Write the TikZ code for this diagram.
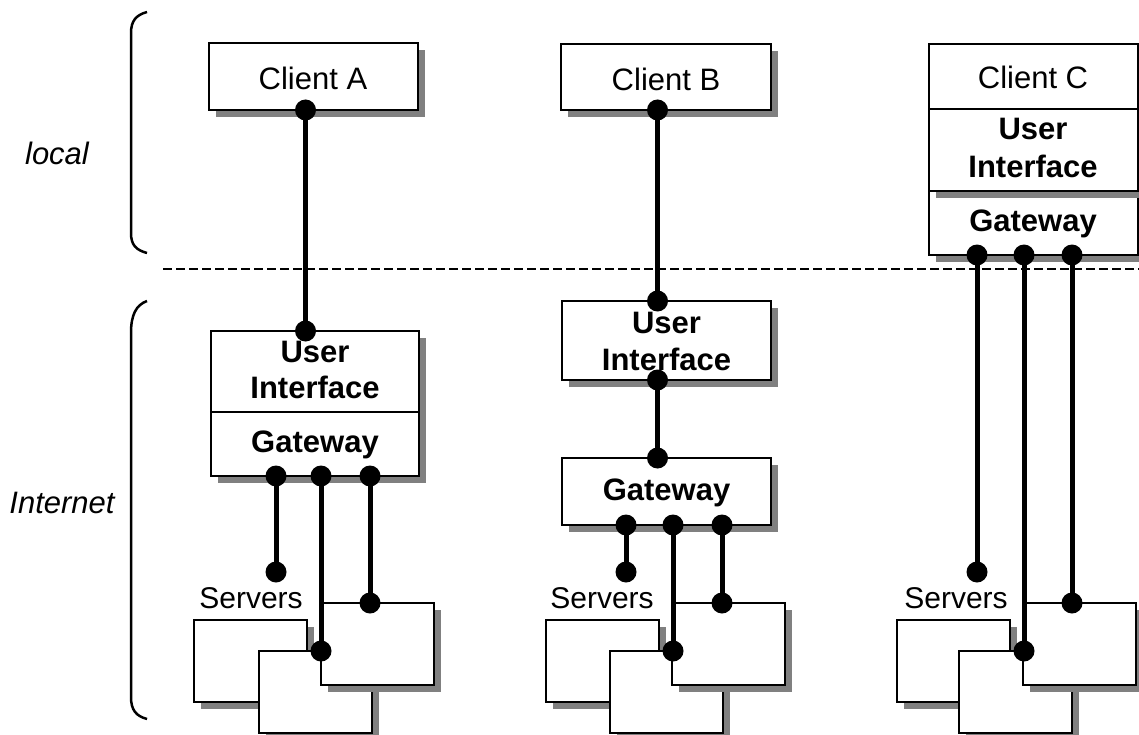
\documentclass[tikz,border=0pt]{standalone}
\usepackage{fontspec}
\setmainfont{Liberation Sans}
\definecolor{shgray}{RGB}{128,128,128}
% name, cx, cy, w, h : gray shadow then white box
\newcommand\mkbox[5]{%
  \fill[shgray] ({#2-#4/2+7},{#3-#5/2+7}) rectangle ({#2+#4/2+7},{#3+#5/2+7});
  \node[box, minimum width=#4pt, minimum height=#5pt] (#1) at (#2,#3) {};}
\begin{document}
\begin{tikzpicture}[x=1pt,y=-1pt,
  box/.style={draw=black, line width=2pt, fill=white, inner sep=0pt, outer sep=0pt},
  txt/.style={inner sep=0pt, anchor=base, font=\fontsize{31}{37}\selectfont},
  btxt/.style={inner sep=0pt, anchor=base, font=\fontsize{31}{37}\selectfont\bfseries},
  stxt/.style={inner sep=0pt, anchor=base, font=\fontsize{30}{36}\selectfont},
  itxt/.style={inner sep=0pt, anchor=base, font=\fontsize{31}{37}\selectfont\itshape},
  dot/.style={circle, fill=black, inner sep=0pt, minimum size=21pt},
  conn/.style={line width=5pt},
  divider/.style={line width=2pt},
  brace/.style={line width=2.5pt},
  sep/.style={line width=2pt, dash pattern=on 9pt off 4pt}]
\useasboundingbox (0,0) rectangle (1139,735);
\fill[white] (0,0) rectangle (1139,735);

% separator
\coordinate (sepL) at (163,269);
\coordinate (sepR) at (1139,269);
\draw[sep] (sepL) -- (sepR);

% braces
\draw[brace] (147,12) .. controls (136,15) and (131,21) .. (131,33) -- (131,233) .. controls (131,245) and (136,250) .. (147,253);
\draw[brace] (147,301) .. controls (136,305) and (131,315) .. (131,333) -- (131,697) .. controls (131,710) and (136,716) .. (147,719);
\node[itxt] (local) at (57,165) {local};
\node[itxt] (internet) at (62,513) {Internet};

% ---------- Column A ----------
\mkbox{cA}{313.5}{76.5}{209}{67}
\node[txt] (cAt) at (313,90) {Client A};
\mkbox{uiA}{315}{403.5}{208}{145}
\coordinate (dvA) at (0,412);
\draw[divider] (uiA.west |- dvA) -- (uiA.east |- dvA);
\node[btxt] (uiAt1) at (315,362) {User};
\node[btxt] (uiAt2) at (315,398) {Interface};
\node[btxt] (gwAt) at (315,452) {Gateway};

\mkbox{sA1}{250.5}{660.5}{113}{82}
\mkbox{sA2}{315.5}{692}{113}{82}
\mkbox{sA3}{377.5}{644}{113}{82}
\node[stxt] (sAt) at (251,608) {Servers};

% ---------- Column B ----------
\mkbox{cB}{666}{77}{210}{66}
\node[txt] (cBt) at (666,91) {Client B};
\mkbox{uiB}{666.5}{340.5}{209}{79}
\node[btxt] (uiBt1) at (666.5,333) {User};
\node[btxt] (uiBt2) at (666.5,370) {Interface};
\mkbox{gwB}{666.5}{491.5}{209}{67}
\node[btxt] (gwBt) at (666.5,500) {Gateway};

\mkbox{sB1}{602.5}{660.5}{113}{82}
\mkbox{sB2}{666.5}{692}{113}{82}
\mkbox{sB3}{728.5}{644}{113}{82}
\node[stxt] (sBt) at (602,608) {Servers};

% ---------- Column C ----------
\mkbox{gwC}{1033.5}{223}{209}{64}
\mkbox{cC}{1033.5}{117.5}{209}{147}
\coordinate (dvC) at (0,109);
\draw[divider] (cC.west |- dvC) -- (cC.east |- dvC);
\node[txt] (cCt) at (1033,89) {Client C};
\node[btxt] (uiCt1) at (1033,140) {User};
\node[btxt] (uiCt2) at (1033,178) {Interface};
\node[btxt] (gwCt) at (1033,232) {Gateway};

\mkbox{sC1}{953.5}{660.5}{113}{82}
\mkbox{sC2}{1015.5}{692}{113}{82}
\mkbox{sC3}{1079.5}{644}{113}{82}
\node[stxt] (sCt) at (956,608) {Servers};

% ---------- dots ----------
\node[dot] (pA0) at (305.5,110) {};
\node[dot] (pA1) at (305.5,331) {};
\node[dot] (gA1) at (276,476) {};
\node[dot] (gA2) at (321,476) {};
\node[dot] (gA3) at (370,476) {};
\node[dot] (eA1) at (276,572) {};
\node[dot] (eA2) at (321,651) {};
\node[dot] (eA3) at (370,603) {};

\node[dot] (pB0) at (657.5,110) {};
\node[dot] (pB1) at (657.5,301) {};
\node[dot] (pB2) at (657.5,380) {};
\node[dot] (pB3) at (657.5,458) {};
\node[dot] (gB1) at (626,525) {};
\node[dot] (gB2) at (673,525) {};
\node[dot] (gB3) at (722,525) {};
\node[dot] (eB1) at (626,572) {};
\node[dot] (eB2) at (673,651) {};
\node[dot] (eB3) at (722,603) {};

\node[dot] (gC1) at (977,255) {};
\node[dot] (gC2) at (1024,255) {};
\node[dot] (gC3) at (1072,255) {};
\node[dot] (eC1) at (977,572) {};
\node[dot] (eC2) at (1024,651) {};
\node[dot] (eC3) at (1072,603) {};

% ---------- connectors ----------
\draw[conn] (pA0.center) -- (pA1.center);
\draw[conn] (gA1.center) -- (eA1.center);
\draw[conn] (gA2.center) -- (eA2.center);
\draw[conn] (gA3.center) -- (eA3.center);

\draw[conn] (pB0.center) -- (pB1.center);
\draw[conn] (pB2.center) -- (pB3.center);
\draw[conn] (gB1.center) -- (eB1.center);
\draw[conn] (gB2.center) -- (eB2.center);
\draw[conn] (gB3.center) -- (eB3.center);

\draw[conn] (gC1.center) -- (eC1.center);
\draw[conn] (gC2.center) -- (eC2.center);
\draw[conn] (gC3.center) -- (eC3.center);
\end{tikzpicture}
\end{document}
